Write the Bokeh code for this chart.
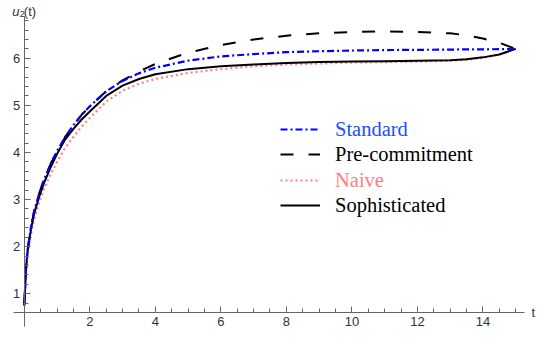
from bokeh.plotting import figure
from bokeh.models import LinearAxis, FixedTicker, Legend, LegendItem, Label, Range1d
from bokeh.embed import file_html
from bokeh.resources import INLINE

# ---- data ----
t = [0, 0.05, 0.1, 0.2, 0.3, 0.45, 0.6, 0.8, 1.0, 1.25, 1.5, 1.75, 2, 2.5, 3, 3.5,
     4, 5, 6, 7, 8, 9, 10, 11, 12, 13, 13.5, 14, 14.5, 15]
standard = [0.75, 1.5, 1.92, 2.4, 2.75, 3.12, 3.42, 3.75, 4.03, 4.33, 4.58, 4.8, 4.98,
            5.3, 5.52, 5.68, 5.8, 5.95, 6.04, 6.09, 6.13, 6.15, 6.165, 6.175, 6.18,
            6.185, 6.19, 6.19, 6.195, 6.2]
precommitment = [0.75, 1.5, 1.92, 2.4, 2.75, 3.12, 3.42, 3.75, 4.03, 4.33, 4.58, 4.8,
                 4.98, 5.3, 5.53, 5.72, 5.88, 6.12, 6.28, 6.4, 6.48, 6.53, 6.56, 6.57,
                 6.56, 6.53, 6.49, 6.42, 6.33, 6.2]
naive = [0.8, 1.45, 1.82, 2.25, 2.58, 2.93, 3.22, 3.53, 3.8, 4.1, 4.33, 4.55, 4.73,
         5.08, 5.31, 5.46, 5.56, 5.69, 5.77, 5.83, 5.87, 5.89, 5.91, 5.92, 5.93, 5.95,
         5.97, 6.01, 6.08, 6.2]
sophisticated = [0.8, 1.5, 1.9, 2.35, 2.7, 3.05, 3.35, 3.68, 3.97, 4.28, 4.5, 4.7, 4.87,
                 5.2, 5.42, 5.56, 5.66, 5.77, 5.83, 5.87, 5.9, 5.92, 5.93, 5.94, 5.95,
                 5.96, 5.98, 6.02, 6.08, 6.2]

x_major = [2, 4, 6, 8, 10, 12, 14]
x_minor = [0.5, 1, 1.5, 2, 2.5, 3, 3.5, 4, 4.5, 5, 5.5, 6, 6.5, 7, 7.5, 8, 8.5, 9, 9.5,
           10, 10.5, 11, 11.5, 12, 12.5, 13, 13.5, 14, 14.5, 15]
y_major = [1, 2, 3, 4, 5, 6]
y_minor = [0.8, 1.0, 1.2, 1.4, 1.6, 1.8, 2.0, 2.2, 2.4, 2.6, 2.8, 3.0, 3.2, 3.4, 3.6,
           3.8, 4.0, 4.2, 4.4, 4.6, 4.8, 5.0, 5.2, 5.4, 5.6, 5.8, 6.0, 6.2, 6.4, 6.6,
           6.8]

labels = ["Standard", "Pre-commitment", "Naive", "Sophisticated"]

p = figure(width=538, height=329, output_backend="svg", toolbar_location=None,
           x_range=Range1d(-0.7265, 15.696), y_range=Range1d(0.239, 7.228),
           x_axis_location=None, y_axis_location=None,
           min_border_left=0, min_border_right=0, min_border_top=0, min_border_bottom=0)
p.outline_line_color = None
p.xgrid.visible = False
p.ygrid.visible = False
p.background_fill_color = "white"
p.border_fill_color = "white"

axis_col = "#666666"
lab_col = "#333333"

xa = LinearAxis(fixed_location=0.6, bounds=(-0.32, 15.27),
                ticker=FixedTicker(ticks=x_major, minor_ticks=x_minor))
ya = LinearAxis(fixed_location=0, bounds=(0.3, 6.89),
                ticker=FixedTicker(ticks=y_major, minor_ticks=y_minor))
for ax in (xa, ya):
    ax.axis_line_color = axis_col
    ax.axis_line_width = 1
    ax.major_tick_line_color = axis_col
    ax.minor_tick_line_color = axis_col
    ax.major_tick_in = 6
    ax.major_tick_out = 0
    ax.minor_tick_in = 4
    ax.minor_tick_out = 0
    ax.major_label_text_font = "Liberation Sans"
    ax.major_label_text_font_size = "13px"
    ax.major_label_text_color = lab_col
    ax.major_label_standoff = 4
p.add_layout(xa, "below")
p.add_layout(ya, "left")

r_naive = p.line(t, naive, line_color="#FF8080", line_width=2.2, line_dash="2 3")
r_soph = p.line(t, sophisticated, line_color="black", line_width=2)
r_pre = p.line(t, precommitment, line_color="black", line_width=2, line_dash="13 15")
r_std = p.line(t, standard, line_color="#0000FF", line_width=2.2, line_dash="7 3 2 3")

# legend: one per row so each text can have its own colour
rows = [(labels[0], r_std, "#2050FF", 188),
        (labels[1], r_pre, "black", 163),
        (labels[2], r_naive, "#FF8080", 137),
        (labels[3], r_soph, "black", 112)]
for lab, r, col, yy in rows:
    leg = Legend(items=[LegendItem(label=lab, renderers=[r])], location=(280, yy),
                 glyph_width=40, glyph_height=24, label_height=24, label_standoff=15,
                 padding=0, margin=0, spacing=0, border_line_color=None,
                 background_fill_alpha=0,
                 label_text_font="Liberation Serif", label_text_font_size="20.5px",
                 label_text_color=col)
    p.add_layout(leg, "center")

# axis titles
p.add_layout(Label(x=-0.369, y=6.995, text="u", text_font="Liberation Sans",
                   text_font_style="italic", text_font_size="13px", text_color=lab_col,
                   text_baseline="alphabetic"))
p.add_layout(Label(x=-0.137, y=6.935, text="2", text_font="Liberation Sans",
                   text_font_size="9px", text_color=lab_col, text_baseline="alphabetic"))
p.add_layout(Label(x=-0.015, y=6.995, text="(t)", text_font="Liberation Sans",
                   text_font_size="13px", text_color=lab_col, text_baseline="alphabetic"))
p.add_layout(Label(x=15.54, y=0.6, text="t", text_font="Liberation Sans",
                   text_font_size="13px", text_color=lab_col, text_align="center",
                   text_baseline="middle"))

open("out.html", "w").write(file_html(p, INLINE))
